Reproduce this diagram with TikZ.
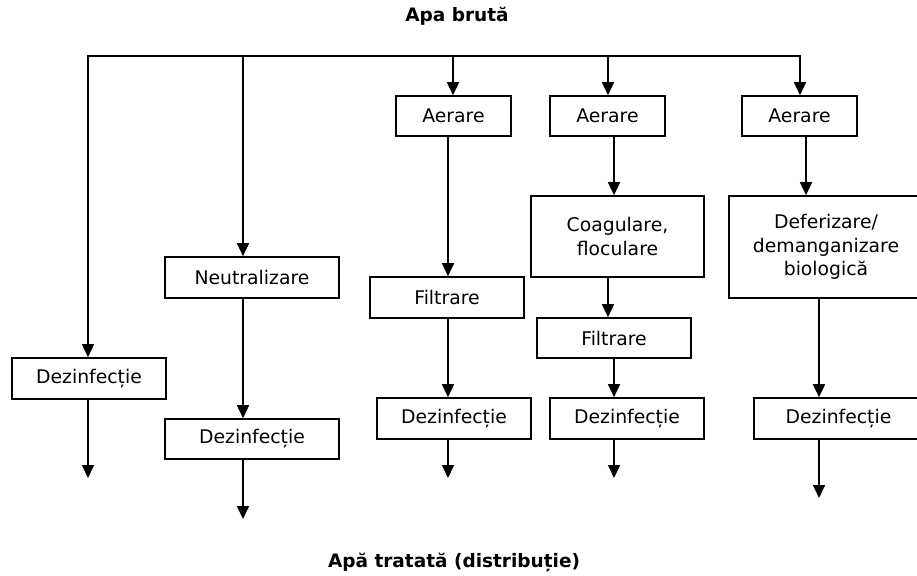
\documentclass[tikz,border=0pt]{standalone}
\usepackage{fontspec}
\setmainfont{DejaVu Sans}
\usetikzlibrary{arrows.meta}
\begin{document}
\begin{tikzpicture}[x=1pt,y=-1pt,
  stage/.style={draw, line width=1.6pt, inner sep=0pt, align=center,
    font=\fontsize{18.8}{23.5}\selectfont},
  flow/.style={line width=1.6pt, -{Triangle[width=12pt,length=13pt]}},
  title/.style={font=\fontsize{18.5}{22}\selectfont\bfseries}]
\useasboundingbox (0,0) rectangle (917,575);
\clip (0,0) rectangle (917,575);

% headings
\node[title] (raw) at (457,16) {Apa brută};
\node[title] (out) at (454,562) {Apă tratată (distribuție)};

% column 1
\node[stage, minimum width=154pt, minimum height=41pt] (d1) at (89,378.5) {Dezinfecție};
% column 2
\node[stage, minimum width=174pt, minimum height=41pt] (neu) at (252,277.5) {Neutralizare};
\node[stage, minimum width=174pt, minimum height=40pt] (d2) at (252,439) {Dezinfecție};
% column 3
\node[stage, minimum width=115pt, minimum height=40pt] (aer3) at (453.5,116) {Aerare};
\node[stage, minimum width=154pt, minimum height=41pt] (fil3) at (447,297.5) {Filtrare};
\node[stage, minimum width=154pt, minimum height=41pt] (d3) at (454,418.5) {Dezinfecție};
% column 4
\node[stage, minimum width=115pt, minimum height=40pt] (aer4) at (607.5,116) {Aerare};
\node[stage, minimum width=173pt, minimum height=81pt] (coag) at (617.5,236.5) {Coagulare,\\floculare};
\node[stage, minimum width=154pt, minimum height=40pt] (fil4) at (614,338) {Filtrare};
\node[stage, minimum width=154pt, minimum height=41pt] (d4) at (627,418.5) {Dezinfecție};
% column 5
\node[stage, minimum width=115pt, minimum height=40pt] (aer5) at (799.5,116) {Aerare};
\node[stage, minimum width=194pt, minimum height=102pt] (def) at (826,247) {Deferizare/\\demanganizare\\biologică};
\node[stage, minimum width=169pt, minimum height=41pt] (d5) at (838.5,418.5) {Dezinfecție};

% distribution bus and line positions
\coordinate (b1) at (88,56);
\coordinate (b2) at (243,56);
\coordinate (b3) at (453,56);
\coordinate (b4) at (608,56);
\coordinate (b5) at (800,56);
\coordinate (x3) at (448,0);
\coordinate (x4) at (614,0);
\coordinate (x4f) at (608,0);
\coordinate (x5) at (806,0);
\coordinate (x5d) at (819,0);

% free ends of the outlet arrows
\coordinate (o1) at (88,478);
\coordinate (o2) at (243,519);
\coordinate (o3) at (448,478);
\coordinate (o4) at (614,478);
\coordinate (o5) at (819,498);

% bus with branches
\draw[flow, line join=miter] (b2) -- (b1) -- (d1.north -| b1);
\draw[flow, line join=miter] (b2) -- (b5) -- (aer5.north -| b5);
\draw[flow] (b2) -- (neu.north -| b2);
\draw[flow] (b3) -- (aer3.north -| b3);
\draw[flow] (b4) -- (aer4.north -| b4);

% column 1
\draw[flow] (d1.south -| o1) -- (o1);
% column 2
\draw[flow] (neu.south -| b2) -- (d2.north -| b2);
\draw[flow] (d2.south -| o2) -- (o2);
% column 3
\draw[flow] (aer3.south -| x3) -- (fil3.north -| x3);
\draw[flow] (fil3.south -| x3) -- (d3.north -| x3);
\draw[flow] (d3.south -| o3) -- (o3);
% column 4
\draw[flow] (aer4.south -| x4) -- (coag.north -| x4);
\draw[flow] (coag.south -| x4f) -- (fil4.north -| x4f);
\draw[flow] (fil4.south -| x4) -- (d4.north -| x4);
\draw[flow] (d4.south -| o4) -- (o4);
% column 5
\draw[flow] (aer5.south -| x5) -- (def.north -| x5);
\draw[flow] (def.south -| x5d) -- (d5.north -| x5d);
\draw[flow] (d5.south -| o5) -- (o5);
\end{tikzpicture}
\end{document}
